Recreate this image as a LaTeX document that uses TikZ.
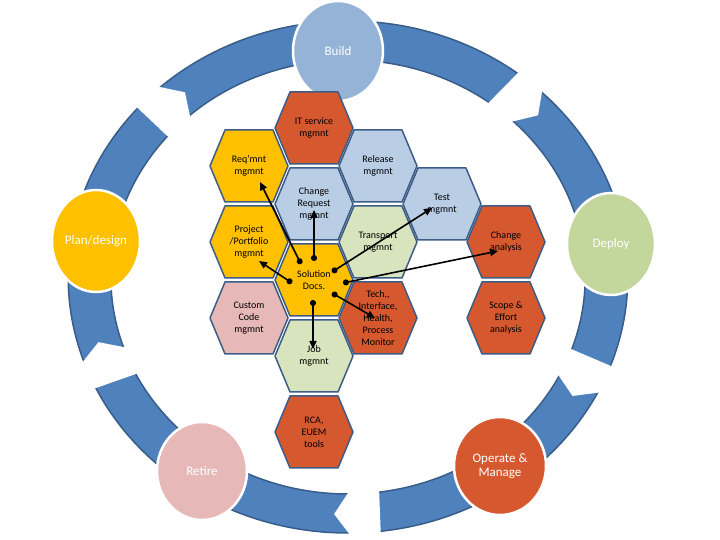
\documentclass[tikz,border=0pt]{standalone}
\usepackage{fontspec}
\setmainfont{Carlito}
\usepackage{xcolor}
\usepackage{tikz}
\usetikzlibrary{positioning,arrows.meta,shapes.geometric,calc}
\definecolor{ringblue}{HTML}{4F81BD}
\definecolor{ringdark}{HTML}{385D8A}
\definecolor{cellrule}{HTML}{3D5C86}
\definecolor{buildblue}{HTML}{95B3D7}
\definecolor{planyellow}{HTML}{FFC000}
\definecolor{deploygreen}{HTML}{C3D69B}
\definecolor{retirepink}{HTML}{E6B9B8}
\definecolor{oprust}{HTML}{D6582E}
\definecolor{paleblue}{HTML}{B9CDE5}
\definecolor{palegreen}{HTML}{D7E4BD}

% hexagon cell: name, centre, fill, text
\newcommand{\hexcell}[4]{%
  \draw[cell,fill=#3] (#2) ++(-39,0) -- ++(15,36) -- ++(48,0) -- ++(15,-36)
    -- ++(-15,-36) -- ++(-48,0) -- cycle;
  \node[hx] (#1) at (#2) {#4};}

\begin{document}
\begin{tikzpicture}[x=1pt,y=1pt,
  ph/.style={ellipse,draw=white,line width=2.5pt,text=white,inner sep=0pt,
             font=\fontsize{13}{14.5}\selectfont,align=center},
  cell/.style={draw=cellrule,line width=1.5pt,line join=round},
  hx/.style={align=center,font=\fontsize{10}{11.8}\selectfont,inner sep=1pt},
  a/.style={{Circle[length=6pt]}-{Triangle[length=8pt,width=7pt]},line width=1.6pt}]
\useasboundingbox (0,0) rectangle (720,540);
% ring with the white arrows
\begin{scope}[shift={(348,263)},xscale=1.093]
  \draw[ringdark,fill=ringblue,line width=1.5pt,even odd rule]
    (0,0) circle (256) (0,0) circle (217);
  \foreach \t in {134,48,-25,-88,201}
    \fill[white,rotate=\t] (215,21) -- (258,21) -- (258,-7) -- (236.5,-21) -- (215,-7) -- cycle;
\end{scope}
% phases
\node[ph,fill=buildblue,minimum width=90pt,minimum height=100pt] (build) at (338,489) {Build};
\node[ph,fill=planyellow,minimum width=88pt,minimum height=102pt] (plan) at (96,299) {Plan/design};
\node[ph,fill=deploygreen,minimum width=88pt,minimum height=102pt] (deploy) at (611,296) {Deploy};
\node[ph,fill=retirepink,minimum width=90pt,minimum height=98pt] (retire) at (202,69) {Retire};
\node[ph,fill=oprust,minimum width=92pt,minimum height=98pt] (operate) at (500,74) {Operate \&\\Manage};
% honeycomb
\hexcell{it}{314,412}{oprust}{IT service\\mgmnt}
\hexcell{req}{249,374}{planyellow}{Req’mnt\\mgmnt}
\hexcell{rel}{378,374}{paleblue}{Release\\mgmnt}
\hexcell{chg}{314,336}{paleblue}{Change\\Request\\mgmnt}
\hexcell{test}{442,336}{paleblue}{Test\\mgmnt}
\hexcell{proj}{249,298}{planyellow}{Project\\/Portfolio\\mgmnt}
\hexcell{trans}{378,298}{palegreen}{Transport\\mgmnt}
\hexcell{sol}{314,260}{planyellow}{Solution\\Docs.}
\hexcell{cust}{249,222}{retirepink}{Custom\\Code\\mgmnt}
\hexcell{tech}{378,222}{oprust}{Tech.,\\Interface,\\Health,\\Process\\Monitor}
\hexcell{job}{314,184}{palegreen}{Job\\mgmnt}
\hexcell{rca}{314,108}{oprust}{RCA,\\EUEM\\tools}
\hexcell{chana}{506,298}{oprust}{Change\\analysis}
\hexcell{scope}{506,222}{oprust}{Scope \&\\Effort\\analysis}
% links out of the solution docs
\draw[a] ([shift={(-13,16)}]sol.center) -- ([shift={(11,-16)}]req.center);
\draw[a] ([shift={(0,19)}]sol.center) -- ([shift={(0,-6)}]chg.center);
\draw[a] ([shift={(18,8)}]sol.center) -- ([shift={(-10,-4)}]test.center);
\draw[a] ([shift={(-22,-3)}]sol.center) -- ([shift={(10,-19)}]proj.center);
\draw[a] ([shift={(29,-3)}]sol.center) -- ([shift={(-8,-9)}]chana.center);
\draw[a] ([shift={(18,-13)}]sol.center) -- ([shift={(-3,0)}]tech.center);
\draw[a] ([shift={(-1,-20)}]sol.center) -- ([shift={(-1,7)}]job.center);
\end{tikzpicture}
\end{document}
